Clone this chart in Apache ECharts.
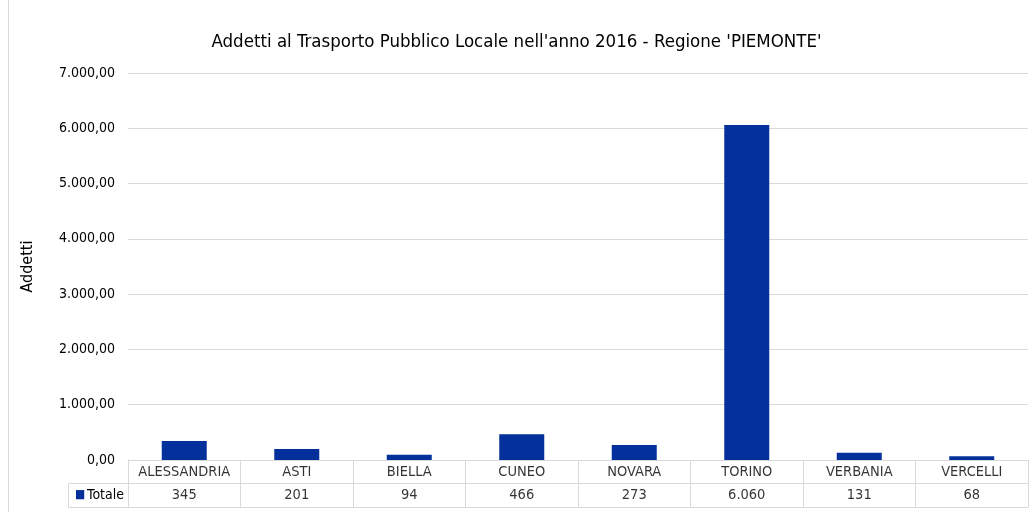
<!DOCTYPE html>
<html><head><meta charset="utf-8">
<script src="https://cdn.jsdelivr.net/npm/echarts@6/dist/echarts.min.js"></script>
<style>html,body{margin:0;padding:0;background:#fff}#c{width:1033px;height:512px}</style>
</head><body><div id="c"></div>
<script>
const categories = ['ALESSANDRIA','ASTI','BIELLA','CUNEO','NOVARA','TORINO','VERBANIA','VERCELLI'];
const totale = [345, 201, 94, 466, 273, 6060, 131, 68];
const seriesName = 'Totale';
const titleText = "Addetti al Trasporto Pubblico Locale nell'anno 2016 - Regione 'PIEMONTE'";
const yAxisName = 'Addetti';
const yMin = 0, yMax = 7000, yStep = 1000;

const FONT = '"Liberation Sans Narrow","DejaVu Sans Condensed","Roboto",sans-serif';
const BLUE = '#03309a';
const GRID = '#d9d9d9';

function fmtIt(v, dec) {
  const s = v.toFixed(dec);
  let [i, d] = s.split('.');
  i = i.replace(/\B(?=(\d{3})+(?!\d))/g, '.');
  return d ? i + ',' + d : i;
}

const tableData = [];
categories.forEach((c, i) => {
  tableData.push({value: [c, 'names'], label: {formatter: c}});
  tableData.push({value: [c, 'vals'], label: {formatter: fmtIt(totale[i], 0)}});
});

const chart = echarts.init(document.getElementById('c'), null, {renderer: 'canvas'});
chart.setOption({
  backgroundColor: '#fff',
  animation: false,
  textStyle: {fontFamily: FONT},
  title: {
    text: titleText, left: 'center', top: 28,
    textStyle: {fontFamily: FONT, fontSize: 18.5, fontWeight: 'normal', color: '#000'}
  },
  graphic: [
    {type: 'line', shape: {x1: 8.5, y1: 0, x2: 8.5, y2: 512}, style: {stroke: GRID, lineWidth: 1}},
    {type: 'rect', shape: {x: 68.5, y: 483.5, width: 60, height: 24}, style: {fill: 'none', stroke: GRID, lineWidth: 1}}
  ],
  grid: [
    {left: 128, right: 5, top: 73, bottom: 52},
    {left: 128, right: 5, top: 460, height: 47}
  ],
  xAxis: [
    {type: 'category', gridIndex: 0, data: categories,
     axisLine: {show: true, lineStyle: {color: GRID}}, axisTick: {show: false}, axisLabel: {show: false}},
    {type: 'category', gridIndex: 1, data: categories,
     axisLine: {show: true, lineStyle: {color: GRID}}, axisTick: {show: false}, axisLabel: {show: false},
     splitLine: {show: true, lineStyle: {color: GRID}}}
  ],
  yAxis: [
    {type: 'value', gridIndex: 0, min: yMin, max: yMax, interval: yStep,
     name: yAxisName, nameLocation: 'middle', nameGap: 92, nameRotate: 90,
     nameTextStyle: {fontFamily: FONT, fontSize: 16, color: '#000'},
     axisLine: {show: false}, axisTick: {show: false},
     axisLabel: {formatter: v => fmtIt(v, 2), fontFamily: FONT, fontSize: 14, color: '#000', margin: 13},
     splitLine: {lineStyle: {color: GRID}}},
    {type: 'category', gridIndex: 1, data: ['vals', 'names'],
     axisLine: {show: true, lineStyle: {color: GRID}}, axisTick: {show: false},
     splitLine: {show: true, lineStyle: {color: GRID}},
     axisLabel: {margin: 4, formatter: v => v === 'vals' ? '{m|■}' + seriesName : '',
       fontFamily: FONT, fontSize: 14, color: '#000',
       rich: {m: {color: BLUE, fontSize: 12, padding: [0, 2, 0, 0]}}}}
  ],
  series: [
    {name: seriesName, type: 'bar', xAxisIndex: 0, yAxisIndex: 0, data: totale,
     barWidth: '40%', itemStyle: {color: BLUE}},
    {type: 'scatter', xAxisIndex: 1, yAxisIndex: 1, data: tableData, symbolSize: 0,
     silent: true,
     label: {show: true, position: 'inside', fontFamily: FONT, fontSize: 14.5, color: '#000'}}
  ]
});
</script></body></html>
